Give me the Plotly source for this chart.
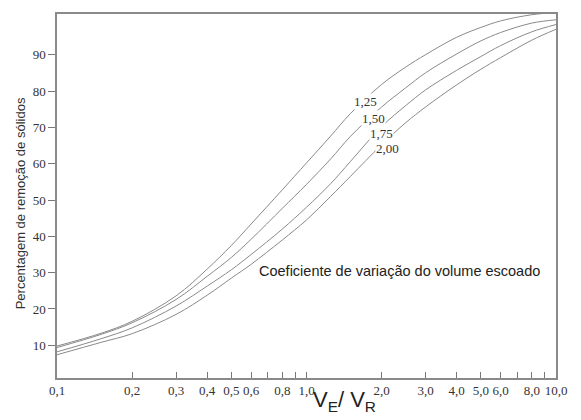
import math
import plotly.graph_objects as go

# V_E / V_R values (x axis, log scale)
vr = [0.1, 0.15, 0.2, 0.3, 0.4, 0.5, 0.6, 0.8, 1.0, 1.25, 1.5, 2.0, 2.5, 3.0, 4.0, 5.0, 6.0, 8.0, 10.0]

# Percentage of solids removal for each coefficient of variation
cv_125 = [9.8, 13.3, 16.6, 23.6, 31.0, 37.5, 43.4, 52.8, 60.2, 67.6, 73.8, 81.8, 86.6, 90.0, 94.8, 97.5, 99.3, 101.0, 101.6]
cv_150 = [9.4, 13.0, 16.2, 22.6, 29.0, 34.2, 39.2, 47.7, 54.3, 61.3, 67.5, 75.6, 80.9, 85.0, 90.2, 93.8, 96.1, 98.7, 99.6]
cv_175 = [8.2, 11.8, 14.8, 20.8, 26.3, 30.8, 35.0, 42.0, 48.0, 54.5, 60.6, 70.2, 76.0, 80.3, 85.7, 89.5, 92.5, 96.3, 98.3]
cv_200 = [7.4, 10.8, 13.2, 18.5, 23.8, 28.5, 32.3, 39.0, 44.5, 51.0, 56.5, 65.2, 71.3, 75.6, 81.7, 86.0, 89.2, 94.0, 97.0]

curve_labels = ["1,25", "1,50", "1,75", "2,00"]

x_tickvals = [0.1, 0.2, 0.3, 0.4, 0.5, 0.6, 0.7, 0.8, 0.9, 1.0,
              2.0, 3.0, 4.0, 5.0, 6.0, 7.0, 8.0, 9.0, 10.0]
x_ticktext = ["0,1", "0,2", "0,3", "0,4", "0,5", "0,6", "", "0,8", "", "1,0",
              "2,0", "3,0", "4,0", "5,0", "6,0", "", "8,0", "", "10,0"]
y_tickvals = [10, 20, 30, 40, 50, 60, 70, 80, 90]
y_ticktext = ["10", "20", "30", "40", "50", "60", "70", "80", "90"]

y_title = "Percentagem de remoção de sólidos"
x_title = "V<sub>E</sub>/ V<sub>R</sub>"
note = "Coeficiente de variação do volume escoado"

line_color = "#8a8a8a"
serif = "Liberation Serif"
sans = "Liberation Sans"

fig = go.Figure()
for name, ys in zip(curve_labels, [cv_125, cv_150, cv_175, cv_200]):
    fig.add_trace(go.Scatter(
        x=vr, y=ys, mode="lines", name=name,
        line=dict(color=line_color, width=1, shape="spline", smoothing=1.0),
        showlegend=False, hoverinfo="skip",
    ))

# curve labels (sit on the curves, masking them like the original)
label_pos = [(1.716, 77.1), (1.864, 72.4), (1.989, 68.3), (2.102, 64.2)]
for txt, (lx, ly) in zip(curve_labels, label_pos):
    fig.add_annotation(x=math.log10(lx), y=ly, xref="x", yref="y", text=txt,
                       showarrow=False, bgcolor="white", borderpad=0,
                       xanchor="center", yanchor="middle",
                       font=dict(family=serif, size=13, color="#333333"))

fig.add_annotation(x=0.687, y=0.295, xref="paper", yref="paper", text=note,
                   showarrow=False, xanchor="center", yanchor="middle",
                   font=dict(family=sans, size=14.5, color="#222222"))

fig.add_annotation(x=-0.074, y=0.48, xref="paper", yref="paper", text=y_title,
                   textangle=-90, showarrow=False, xanchor="center", yanchor="middle",
                   font=dict(family=sans, size=13, color="#333333"))

fig.add_annotation(x=0.577, y=-0.063, xref="paper", yref="paper", text=x_title,
                   showarrow=False, xanchor="center", yanchor="middle",
                   font=dict(family=sans, size=22, color="#222222"))

fig.update_xaxes(
    type="log", range=[-1, 1],
    tickmode="array", tickvals=x_tickvals, ticktext=x_ticktext, tickangle=0,
    ticks="inside", ticklen=6, tickcolor="#777777", tickwidth=1,
    showline=True, linecolor="#8a8a8a", linewidth=1.5, mirror=True,
    showgrid=False, zeroline=False,
    tickfont=dict(family=serif, size=13, color="#333333"),
)
fig.update_yaxes(
    range=[1, 101.2],
    tickmode="array", tickvals=y_tickvals, ticktext=y_ticktext,
    ticks="outside", ticklen=7, tickcolor="#777777", tickwidth=1,
    showline=True, linecolor="#8a8a8a", linewidth=1.5, mirror=True,
    showgrid=False, zeroline=False,
    tickfont=dict(family=serif, size=13, color="#333333"),
)

fig.update_layout(
    width=581, height=420,
    margin=dict(l=57, r=25, t=12, b=42),
    paper_bgcolor="white", plot_bgcolor="white",
    showlegend=False,
)

fig.write_html("out.html", config={"displayModeBar": False})

# remove the browser's default page margin so the figure sits at the top-left
with open("out.html", "r", encoding="utf-8") as f:
    html = f.read()
html = html.replace("<head>", "<head><style>html,body{margin:0;padding:0;}</style>", 1)
with open("out.html", "w", encoding="utf-8") as f:
    f.write(html)
